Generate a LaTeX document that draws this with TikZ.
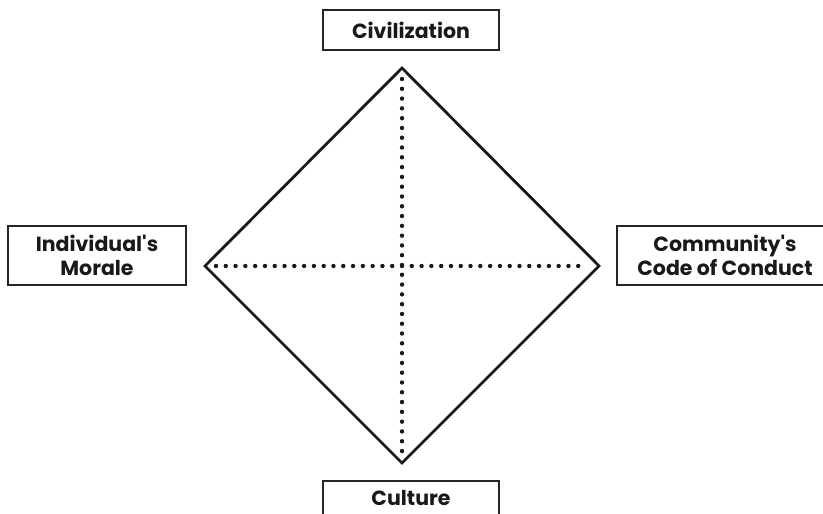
\documentclass[tikz,border=0pt]{standalone}
\usepackage{fontspec}
\newfontfamily\popfont{Poppins}
\begin{document}
\begin{tikzpicture}[x=1pt,y=-1pt,
  lbl/.style={draw=black!85, line width=1.4pt, inner sep=0pt, align=center,
    font=\popfont\fontsize{20.5}{24}\selectfont\bfseries, text=black!90},
  edge/.style={line width=2.8pt, line join=miter, black!90},
  dotline/.style={line width=4.4pt, line cap=round, dash pattern=on 0pt off 9.79pt, black!90, shorten <=11pt, shorten >=11pt}]
\useasboundingbox (0,0) rectangle (823,514);
\clip (0,0) rectangle (823,514);
\node[lbl, minimum width=176pt, minimum height=40pt] (civ) at (411,30) {Civilization};
\node[lbl, minimum width=178pt, minimum height=59pt] (ind) at (97,255.5) {Individual's\\Morale};
\node[lbl, minimum width=216pt, minimum height=59pt] (com) at (725,255.5) {Community's\\Code of Conduct};
\node[lbl, minimum width=176pt, minimum height=34pt] (cul) at (411,498) {Culture};
\coordinate (T) at (402,68);
\coordinate (B) at (402,463);
\coordinate (L) at (205,266);
\coordinate (R) at (599,266);
\draw[edge] (T) -- (R) -- (B) -- (L) -- cycle;
\draw[dotline] (T) -- (B);
\draw[dotline] (L) -- (R);
\end{tikzpicture}
\end{document}
